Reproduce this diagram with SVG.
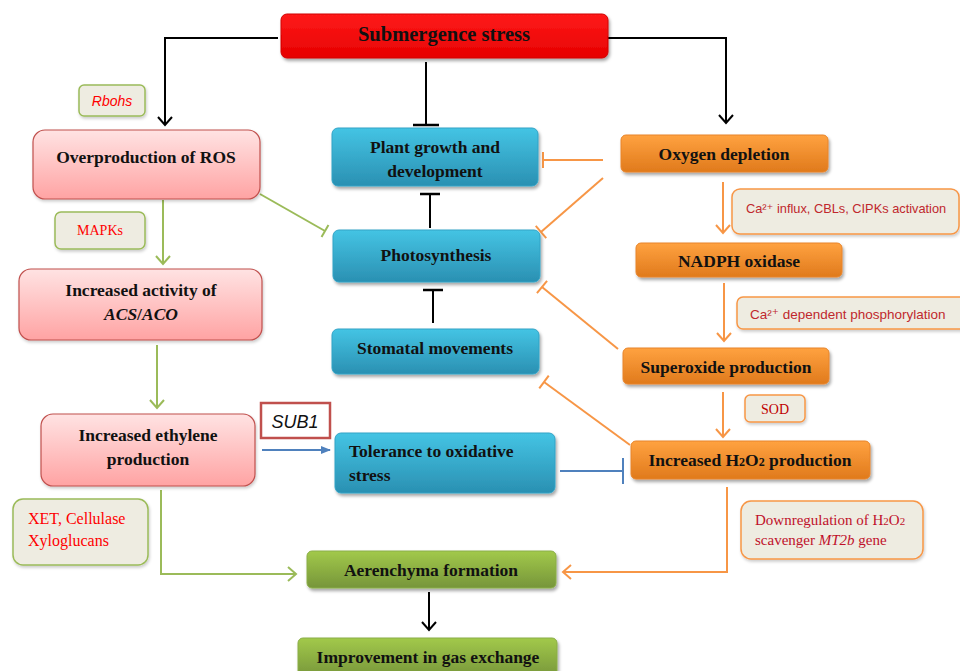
<svg xmlns="http://www.w3.org/2000/svg" width="960" height="671" viewBox="0 0 960 671">
<defs>
<linearGradient id="gRed" x1="0" y1="0" x2="0" y2="1"><stop offset="0" stop-color="#ff1a1a"/><stop offset="1" stop-color="#e60000"/></linearGradient>
<linearGradient id="gPink" x1="0" y1="0" x2="0" y2="1"><stop offset="0" stop-color="#ffe3e3"/><stop offset="1" stop-color="#ffa3a3"/></linearGradient>
<linearGradient id="gBlue" x1="0" y1="0" x2="0" y2="1"><stop offset="0" stop-color="#44c4e4"/><stop offset="1" stop-color="#2a90b2"/></linearGradient>
<linearGradient id="gOrange" x1="0" y1="0" x2="0" y2="1"><stop offset="0" stop-color="#ffa240"/><stop offset="1" stop-color="#e07a1c"/></linearGradient>
<linearGradient id="gGreen" x1="0" y1="0" x2="0" y2="1"><stop offset="0" stop-color="#a2c94a"/><stop offset="1" stop-color="#76953a"/></linearGradient>
<filter id="sh" x="-10%" y="-20%" width="120%" height="150%"><feDropShadow dx="1.5" dy="2.5" stdDeviation="1.8" flood-color="#000" flood-opacity="0.35"/></filter>
<filter id="sh2" x="-10%" y="-20%" width="120%" height="150%"><feDropShadow dx="1" dy="2" stdDeviation="1.5" flood-color="#000" flood-opacity="0.2"/></filter>
<marker id="aBlack" markerUnits="userSpaceOnUse" markerWidth="20" markerHeight="20" refX="10" refY="10" orient="auto" overflow="visible"><path d="M2,3 L10,10 L2,17" fill="none" stroke="#000" stroke-width="2"/></marker>
<marker id="aGreen" markerUnits="userSpaceOnUse" markerWidth="20" markerHeight="20" refX="10" refY="10" orient="auto" overflow="visible"><path d="M2,3 L10,10 L2,17" fill="none" stroke="#9bbb59" stroke-width="2"/></marker>
<marker id="aOrange" markerUnits="userSpaceOnUse" markerWidth="20" markerHeight="20" refX="10" refY="10" orient="auto" overflow="visible"><path d="M2,3 L10,10 L2,17" fill="none" stroke="#f79646" stroke-width="2"/></marker>
<marker id="aBlue" markerUnits="userSpaceOnUse" markerWidth="12" markerHeight="12" refX="9" refY="5" orient="auto" overflow="visible"><path d="M0,1 L10,5 L0,9 Z" fill="#4f81bd"/></marker>
<marker id="tBlack13" markerUnits="userSpaceOnUse" markerWidth="4" markerHeight="30" refX="0" refY="0" orient="auto" overflow="visible"><path d="M0,-13 V13" stroke="#000" stroke-width="2.5"/></marker>
<marker id="tBlack10" markerUnits="userSpaceOnUse" markerWidth="4" markerHeight="30" refX="0" refY="0" orient="auto" overflow="visible"><path d="M0,-10 V10" stroke="#000" stroke-width="2.5"/></marker>
<marker id="tGreen" markerUnits="userSpaceOnUse" markerWidth="4" markerHeight="30" refX="0" refY="0" orient="auto" overflow="visible"><path d="M0,-7 V7" stroke="#9bbb59" stroke-width="2"/></marker>
<marker id="tOrange" markerUnits="userSpaceOnUse" markerWidth="4" markerHeight="30" refX="0" refY="0" orient="auto" overflow="visible"><path d="M0,-8 V8" stroke="#f79646" stroke-width="2"/></marker>
<marker id="tBlue" markerUnits="userSpaceOnUse" markerWidth="4" markerHeight="30" refX="0" refY="0" orient="auto" overflow="visible"><path d="M0,-13 V13" stroke="#4f81bd" stroke-width="2"/></marker>
</defs>
<style>
.node text{font-family:"Liberation Serif","Times New Roman",serif;font-weight:bold;font-size:17.5px;fill:#111;text-anchor:middle}
.red rect{fill:url(#gRed);stroke:#d00000;stroke-width:1}
.pink rect{fill:url(#gPink);stroke:#c0504d;stroke-width:1.2}
.blue rect{fill:url(#gBlue);stroke:#31a3c6;stroke-width:1}
.orange rect{fill:url(#gOrange);stroke:#e8842a;stroke-width:1}
.green rect{fill:url(#gGreen);stroke:#8aae46;stroke-width:1}
.lab rect{fill:#eeece1;stroke-width:1.5}
.lg rect{stroke:#9bbb59}
.lo rect{stroke:#f79646}
.gene rect{fill:#ffffff;stroke:#c0504d;stroke-width:2.5}
.serif{font-family:"Liberation Serif","Times New Roman",serif}
.sans{font-family:"Liberation Sans",Arial,"DejaVu Sans",sans-serif}
.conn path{fill:none;stroke-width:2}
.k{stroke:#000}
.g{stroke:#9bbb59}
.o{stroke:#f79646}
.b{stroke:#4f81bd}
</style>

<g id="connectors" class="conn">
<path class="k" d="M278,38 H165 V125" marker-end="url(#aBlack)"/>
<path class="k" d="M608,38 H726 V123" marker-end="url(#aBlack)"/>
<path class="k" d="M426,62 V125" marker-end="url(#tBlack13)"/>
<path class="k" d="M430,228 V194" marker-end="url(#tBlack10)"/>
<path class="k" d="M433,323 V290" marker-end="url(#tBlack10)"/>
<path class="g" d="M260,194 L325,231" marker-end="url(#tGreen)"/>
<path class="g" d="M163,200 V264" marker-end="url(#aGreen)"/>
<path class="g" d="M157,345 V408" marker-end="url(#aGreen)"/>
<path class="b" d="M262,450 H330" marker-end="url(#aBlue)"/>
<path class="g" d="M161,490 V574 H296" marker-end="url(#aGreen)"/>
<path class="o" d="M603,160 H543" marker-end="url(#tOrange)"/>
<path class="o" d="M603,178 L541,232" marker-end="url(#tOrange)"/>
<path class="o" d="M723,182 V233" marker-end="url(#aOrange)"/>
<path class="o" d="M724,283 V341" marker-end="url(#aOrange)"/>
<path class="o" d="M618,349 L542,287" marker-end="url(#tOrange)"/>
<path class="o" d="M723,392 V437" marker-end="url(#aOrange)"/>
<path class="o" d="M630,445 L544,382" marker-end="url(#tOrange)"/>
<path class="b" d="M560,471 H623" marker-end="url(#tBlue)"/>
<path class="o" d="M727,487 V572 H563" marker-end="url(#aOrange)"/>
<path class="k" d="M429,592 V630" marker-end="url(#aBlack)"/>
</g>

<g id="submergence" class="node red"><rect x="281" y="14" width="327" height="44" rx="6" filter="url(#sh)"/><text x="444" y="41" style="font-size:20.5px">Submergence stress</text></g>

<g id="rbohs" class="lab lg"><rect x="79" y="85" width="66" height="31" rx="5" filter="url(#sh2)"/><text x="112" y="106" class="sans" font-size="14" font-style="italic" fill="#ff0000" text-anchor="middle">Rbohs</text></g>

<g id="ros" class="node pink"><rect x="33" y="130" width="227" height="69" rx="12" filter="url(#sh2)"/><text x="146" y="163">Overproduction of ROS</text></g>

<g id="mapks" class="lab lg"><rect x="55" y="212" width="90" height="37" rx="6" filter="url(#sh2)"/><text x="100" y="235" class="serif" font-size="14" fill="#ff0000" text-anchor="middle">MAPKs</text></g>

<g id="acs" class="node pink"><rect x="19" y="269" width="243" height="71" rx="12" filter="url(#sh2)"/><text x="141" y="296">Increased activity of</text><text x="141" y="320"><tspan font-style="italic">ACS</tspan>/<tspan font-style="italic">ACO</tspan></text></g>

<g id="sub1" class="gene"><rect x="261" y="403" width="69" height="35"/><text x="295" y="428" class="sans" font-size="18" font-style="italic" fill="#111" text-anchor="middle">SUB1</text></g>

<g id="ethylene" class="node pink"><rect x="41" y="414" width="214" height="72" rx="12" filter="url(#sh2)"/><text x="148" y="441">Increased ethylene</text><text x="148" y="465">production</text></g>

<g id="xet" class="lab lg"><rect x="13" y="499" width="135" height="66" rx="10" filter="url(#sh2)"/><text x="28" y="524" class="serif" font-size="16" fill="#ff0000">XET, Cellulase</text><text x="28" y="546" class="serif" font-size="16" fill="#ff0000">Xyloglucans</text></g>

<g id="plantgrowth" class="node blue"><rect x="332" y="128" width="206" height="58" rx="6" filter="url(#sh)"/><text x="435" y="153">Plant growth and</text><text x="435" y="177">development</text></g>

<g id="photosynthesis" class="node blue"><rect x="333" y="230" width="207" height="52" rx="6" filter="url(#sh)"/><text x="436" y="261">Photosynthesis</text></g>

<g id="stomatal" class="node blue"><rect x="332" y="329" width="207" height="45" rx="6" filter="url(#sh)"/><text x="435" y="354">Stomatal movements</text></g>

<g id="tolerance" class="node blue"><rect x="335" y="433" width="220" height="60" rx="6" filter="url(#sh)"/><text x="349" y="457" style="text-anchor:start">Tolerance to oxidative</text><text x="349" y="481" style="text-anchor:start">stress</text></g>

<g id="oxygen" class="node orange"><rect x="621" y="135" width="207" height="37" rx="5" filter="url(#sh)"/><text x="724" y="160">Oxygen depletion</text></g>

<g id="ca1" class="lab lo"><rect x="732" y="189" width="227" height="45" rx="8" filter="url(#sh2)"/><text x="746" y="213" class="sans" font-size="12.8" fill="#c0282d">Ca²⁺ influx, CBLs, CIPKs activation</text></g>

<g id="nadph" class="node orange"><rect x="636" y="243" width="206" height="34" rx="5" filter="url(#sh)"/><text x="739" y="267">NADPH oxidase</text></g>

<g id="ca2" class="lab lo"><rect x="737" y="297" width="231" height="32" rx="6" filter="url(#sh2)"/><text x="750" y="319" class="sans" font-size="13.5" fill="#c0282d">Ca²⁺ dependent phosphorylation</text></g>

<g id="superoxide" class="node orange"><rect x="623" y="348" width="206" height="36" rx="5" filter="url(#sh)"/><text x="726" y="373">Superoxide production</text></g>

<g id="sod" class="lab lo"><rect x="745" y="395" width="60" height="27" rx="5" filter="url(#sh2)"/><text x="775" y="414" class="serif" font-size="14" fill="#c00000" text-anchor="middle">SOD</text></g>

<g id="h2o2" class="node orange"><rect x="631" y="441" width="239" height="38" rx="5" filter="url(#sh)"/><text x="750" y="466">Increased H<tspan font-size="12">2</tspan>O<tspan font-size="12">2</tspan> production</text></g>

<g id="downreg" class="lab lo"><rect x="741" y="501" width="182" height="58" rx="10" filter="url(#sh2)"/><text x="755" y="525" class="serif" font-size="15" fill="#c0102a">Downregulation of H<tspan font-size="11">2</tspan>O<tspan font-size="11">2</tspan></text><text x="755" y="545" class="serif" font-size="15" fill="#c0102a">scavenger <tspan font-style="italic">MT2b</tspan> gene</text></g>

<g id="aerenchyma" class="node green"><rect x="307" y="551" width="249" height="37" rx="5" filter="url(#sh)"/><text x="431" y="576">Aerenchyma formation</text></g>

<g id="improvement" class="node green"><rect x="298" y="638" width="259" height="40" rx="5" filter="url(#sh)"/><text x="428" y="663">Improvement in gas exchange</text></g>
</svg>
